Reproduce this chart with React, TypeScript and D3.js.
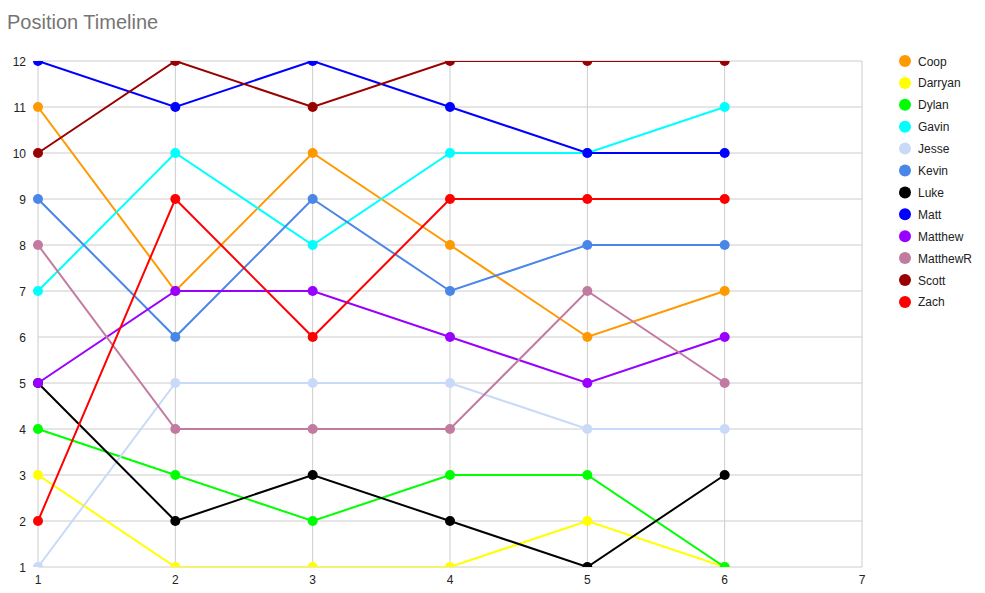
import React from "react";
import * as d3 from "d3";

const xTicks = [1, 2, 3, 4, 5, 6, 7];
const yTicks = [1, 2, 3, 4, 5, 6, 7, 8, 9, 10, 11, 12];
const weeks = [1, 2, 3, 4, 5, 6];

const names = ["Coop", "Darryan", "Dylan", "Gavin", "Jesse", "Kevin", "Luke", "Matt", "Matthew", "MatthewR", "Scott", "Zach"];
const colors = ["#ff9900", "#ffff00", "#00ff00", "#00ffff", "#c9daf8", "#4a86e8", "#000000", "#0000ff", "#9900ff", "#c27ba0", "#990000", "#ff0000"];

const coop = [11, 7, 10, 8, 6, 7];
const darryan = [3, 1, 1, 1, 2, 1];
const dylan = [4, 3, 2, 3, 3, 1];
const gavin = [7, 10, 8, 10, 10, 11];
const jesse = [1, 5, 5, 5, 4, 4];
const kevin = [9, 6, 9, 7, 8, 8];
const luke = [5, 2, 3, 2, 1, 3];
const matt = [12, 11, 12, 11, 10, 10];
const matthew = [5, 7, 7, 6, 5, 6];
const matthewR = [8, 4, 4, 4, 7, 5];
const scott = [10, 12, 11, 12, 12, 12];
const zach = [2, 9, 6, 9, 9, 9];

const seriesValues = [coop, darryan, dylan, gavin, jesse, kevin, luke, matt, matthew, matthewR, scott, zach];

export default function App() {
  const W = 985, H = 593;
  const left = 38, right = 862, top = 61, bottom = 567;
  const x = d3.scaleLinear().domain([1, 7]).range([left, right]);
  const y = d3.scaleLinear().domain([1, 12]).range([bottom, top]);
  const line = d3.line<number>().x((_, i) => x(weeks[i])).y((d) => y(d));
  const font = "Arial, 'Liberation Sans', sans-serif";

  return (
    <svg width={W} height={H} style={{ position: "absolute", left: 0, top: 0, background: "#fff" }}>
      <defs>
        <clipPath id="plot">
          <rect x={left - 10} y={top} width={right - left + 20} height={bottom - top} />
        </clipPath>
      </defs>
      <text x={7} y={29} fontFamily={font} fontSize={20} fill="#757575">Position Timeline</text>
      {yTicks.map((t) => (
        <g key={"y" + t}>
          <line x1={left} x2={right} y1={y(t)} y2={y(t)} stroke="#cccccc" strokeWidth={1} />
          <text x={26} y={y(t) + 4.5} textAnchor="end" fontFamily={font} fontSize={12} fill="#222">{t}</text>
        </g>
      ))}
      {xTicks.map((t) => (
        <g key={"x" + t}>
          <line x1={x(t)} x2={x(t)} y1={top} y2={bottom} stroke="#cccccc" strokeWidth={1} />
          <text x={x(t)} y={bottom + 17} textAnchor="middle" fontFamily={font} fontSize={12} fill="#222">{t}</text>
        </g>
      ))}
      <g clipPath="url(#plot)">
        {seriesValues.map((vals, si) => (
          <g key={names[si]}>
            <path d={line(vals) || ""} fill="none" stroke={colors[si]} strokeWidth={2} />
            {vals.map((v, i) => (
              <circle key={i} cx={x(weeks[i])} cy={y(v)} r={5} fill={colors[si]} />
            ))}
          </g>
        ))}
      </g>
      {names.map((n, i) => (
        <g key={"lg" + n}>
          <circle cx={905} cy={61 + i * 21.9} r={6} fill={colors[i]} />
          <text x={918} y={61 + i * 21.9 + 4.5} fontFamily={font} fontSize={12} fill="#222">{n}</text>
        </g>
      ))}
    </svg>
  );
}
